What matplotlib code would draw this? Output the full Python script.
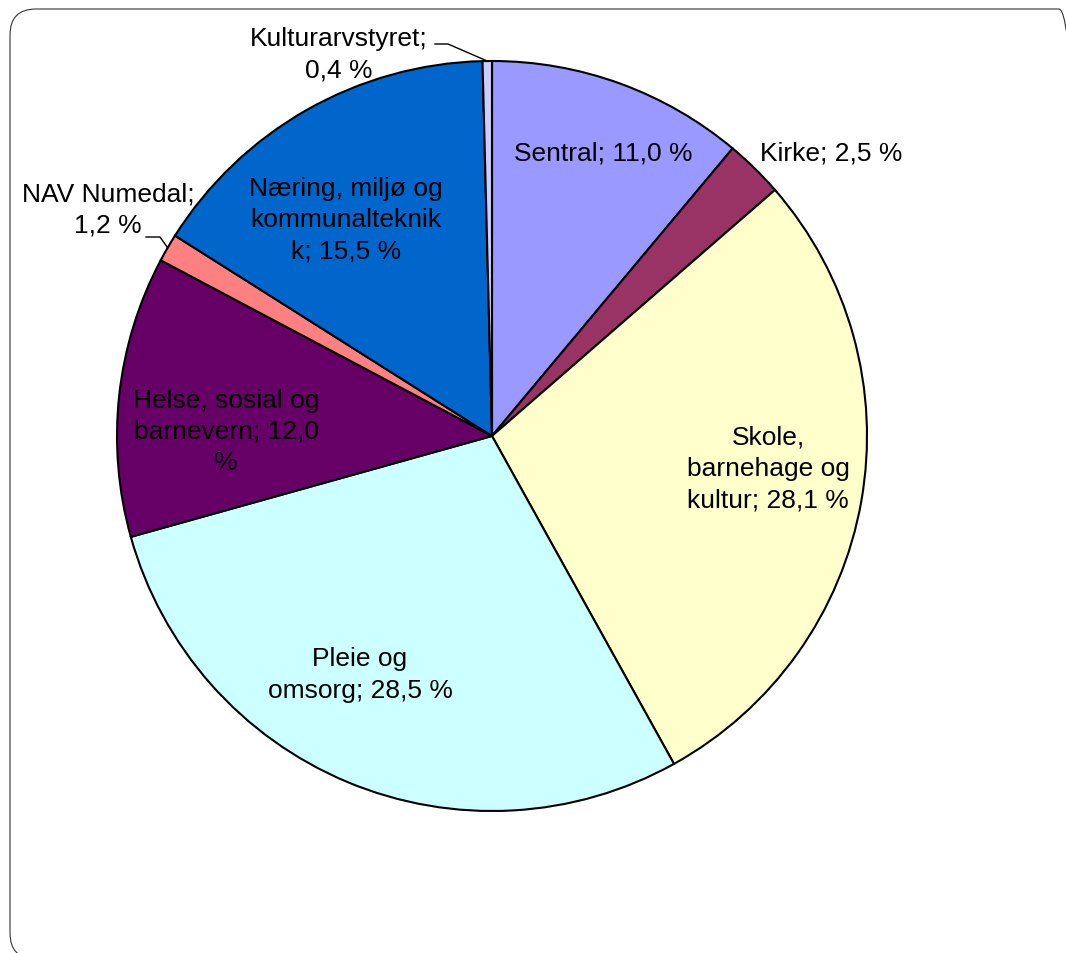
import numpy as np
import matplotlib
matplotlib.use("Agg")
import matplotlib.pyplot as plt
from matplotlib.patches import FancyBboxPatch

plt.rcParams['font.family'] = ['Liberation Sans', 'DejaVu Sans']

# slices, clockwise from 12 o'clock
names = ['Sentral', 'Kirke', 'Skole, barnehage og kultur', 'Pleie og omsorg',
         'Helse, sosial og barnevern', 'NAV Numedal',
         'Næring, miljø og kommunalteknikk', 'Kulturarvstyret']
shares = [11.0, 2.5, 28.1, 28.5, 12.0, 1.2, 15.5, 0.4]
colors = ['#9999FF', '#993366', '#FFFFCC', '#CCFFFF', '#660066', '#FF8080',
          '#0066CC', '#CCCCFF']
# label text as wrapped in the original
label_text = ['Sentral; 11,0 %', 'Kirke; 2,5 %', 'Skole,\nbarnehage og\nkultur; 28,1 %',
              'Pleie og\nomsorg; 28,5 %', 'Helse, sosial og\nbarnevern; 12,0\n%',
              'NAV Numedal;\n1,2 %', 'Næring, miljø og\nkommunalteknik\nk; 15,5 %',
              'Kulturarvstyret;\n0,4 %']

W, H = 1066, 954
cx, cy, R = 492, 437, 375   # pie centre / radius in pixels


def px(x, y):
    # pixel position (from top-left) -> pie data units
    return (x - cx) / R, (cy - y) / R


fig = plt.figure(figsize=(W / 100, H / 100), dpi=100)
# rounded chart-area frame, running off the right and bottom edges
frame = FancyBboxPatch((10, H - 960), 1075, 950,
                       boxstyle='round,pad=0,rounding_size=26',
                       transform=None, fill=False,
                       edgecolor='#333333', linewidth=0.8)
fig.patches.append(frame)
ax = fig.add_axes([(cx - R) / W, (H - cy - R) / H, 2 * R / W, 2 * R / H])

wedges, _ = ax.pie(shares, colors=colors, startangle=90, counterclock=False,
                   radius=1, wedgeprops=dict(edgecolor='black', linewidth=1.5))
ax.set_xlim(-1, 1)
ax.set_ylim(-1, 1)
ax.set_axis_off()

fs = 19
ls = 1.37
# label centres in pixels
label_pos = [(603, 154), (760, 154), (768, 469), (360, 675), (226, 432),
             (108, 210), (346, 220), (339, 55)]
for i, (txt, (lx, ly)) in enumerate(zip(label_text, label_pos)):
    x, y = px(lx, ly)
    ha = 'left' if i == 1 else 'center'
    ax.text(x, y, txt, ha=ha, va='center', fontsize=fs, linespacing=ls,
            multialignment='center', color='black')

# leader lines for the small outside labels
for i, pts in [(5, [(146, 238), (160, 238)]), (7, [(435, 45), (448, 45)])]:
    w = wedges[i]
    mid = np.deg2rad((w.theta1 + w.theta2) / 2)
    tip = (np.cos(mid), np.sin(mid))
    xs = [px(*p)[0] for p in pts] + [tip[0]]
    ys = [px(*p)[1] for p in pts] + [tip[1]]
    ax.plot(xs, ys, color='black', linewidth=1, clip_on=False)

fig.savefig('out.png', dpi=100)
